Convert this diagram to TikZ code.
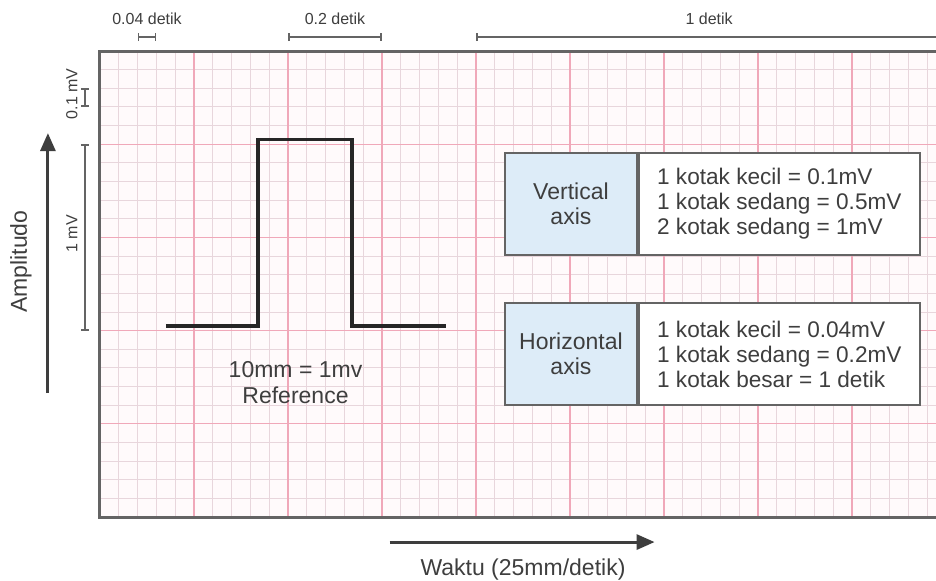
\documentclass[tikz,border=0pt]{standalone}
\usepackage{fontspec}
\setmainfont{Liberation Sans}
\usetikzlibrary{arrows.meta,positioning}
\definecolor{inkgray}{RGB}{62,62,62}
\definecolor{gridminor}{RGB}{232,214,220}
\definecolor{gridmajor}{RGB}{240,168,185}
\definecolor{paperpink}{RGB}{255,250,251}
\definecolor{axisblue}{RGB}{221,236,248}
\definecolor{framegray}{RGB}{100,100,100}
\tikzset{
    labelcell/.style={draw=framegray, line width=1pt, fill=#1,
                      minimum width=66pt, minimum height=51pt,
                      font=\fontsize{11.5}{12.5}\selectfont, text=inkgray,
                      align=center, inner sep=0pt},
    infocell/.style={draw=framegray, line width=1pt, fill=white,
                     minimum width=140.4pt, minimum height=51pt,
                     inner xsep=0pt,
                     font=\fontsize{11.3}{12.5}\selectfont, text=inkgray,
                     align=left},
    dimline/.style={{Bar[width=4pt]}-{Bar[width=4pt]}, draw=framegray,
                    line width=0.9pt},
    tag/.style={font=\fontsize{8}{9}\selectfont, text=inkgray},
    caption/.style={font=\fontsize{11.5}{13}\selectfont, text=inkgray,
                    align=center},
}
\begin{document}
\begin{tikzpicture}[
    x=9.4pt, y=9.32pt,
    arr/.style={-{Triangle[length=9pt,width=7.5pt]}, line width=1.5pt,
                draw=inkgray}
]
    \useasboundingbox (-5.319,-3.38) rectangle (44.468,27.74);
    % ECG paper
    \fill[paperpink] (0,0) rectangle (44.468,25);
    \draw[gridminor, line width=0.5pt, xstep=1, ystep=1] (0,0) grid (44.468,25);
    \draw[gridmajor, line width=0.6pt, xstep=5, ystep=5] (0,0) grid (44.468,25);
    \draw[framegray, line width=1.5pt] (44.468,25) -- (0,25) -- (0,0) -- (44.468,0);

    % calibration pulse
    \draw[black!85, line width=1.6pt, line join=miter]
        (3.5,10.25) -- (8.4,10.25) -- (8.4,20.25) -- (13.4,20.25)
        -- (13.4,10.25) -- (18.4,10.25);
    \node[caption] (ref) at (10.4,7.2) {10mm = 1mv\\Reference};

    % time spans
    \coordinate (s1a) at (2,25.75);  \coordinate (s1b) at (3,25.75);
    \coordinate (s2a) at (10,25.75); \coordinate (s2b) at (15,25.75);
    \coordinate (s3a) at (20,25.75); \coordinate (s3b) at (44.6,25.75);
    \draw[dimline] (s1a) -- (s1b);
    \draw[dimline] (s2a) -- (s2b);
    \draw[dimline, {Bar[width=4pt]}-] (s3a) -- (s3b);
    \node[tag] (t1) at (2.5,26.75) {0.04 detik};
    \node[tag] (t2) at (12.5,26.75) {0.2 detik};
    \node[tag] (t3) at (32.4,26.75) {1 detik};

    % voltage spans
    \coordinate (v1a) at (-0.8,22); \coordinate (v1b) at (-0.8,23);
    \coordinate (v2a) at (-0.8,10); \coordinate (v2b) at (-0.8,20);
    \draw[dimline] (v1a) -- (v1b);
    \draw[dimline] (v2a) -- (v2b);
    \node[tag, rotate=90] (u1) at (-1.5,22.7) {0.1 mV};
    \node[tag, rotate=90] (u2) at (-1.5,15.2) {1 mV};

    % axes
    \coordinate (amp0) at (-2.77,6.65);
    \coordinate (amp1) at (-2.77,20.6);
    \draw[arr] (amp0) -- (amp1);
    \node[caption, rotate=90] (amp) at (-4.2,13.7) {Amplitudo};
    \coordinate (time0) at (15.4,-1.34);
    \coordinate (time1) at (29.5,-1.34);
    \draw[arr] (time0) -- (time1);
    \node[caption] (time) at (22.5,-2.8) {Waktu (25mm/detik)};

    % legend
    \node[labelcell=axisblue] (vlab) at (25.05,16.8) {Vertical\\axis};
    \node[infocell, anchor=west] (vinfo) at (vlab.east)
        {1 kotak kecil = 0.1mV\\1 kotak sedang = 0.5mV\\2 kotak sedang = 1mV};
    \node[labelcell=axisblue] (hlab) at (25.05,8.745) {Horizontal\\axis};
    \node[infocell, anchor=west] (hinfo) at (hlab.east)
        {1 kotak kecil = 0.04mV\\1 kotak sedang = 0.2mV\\1 kotak besar = 1 detik};
\end{tikzpicture}
\end{document}
